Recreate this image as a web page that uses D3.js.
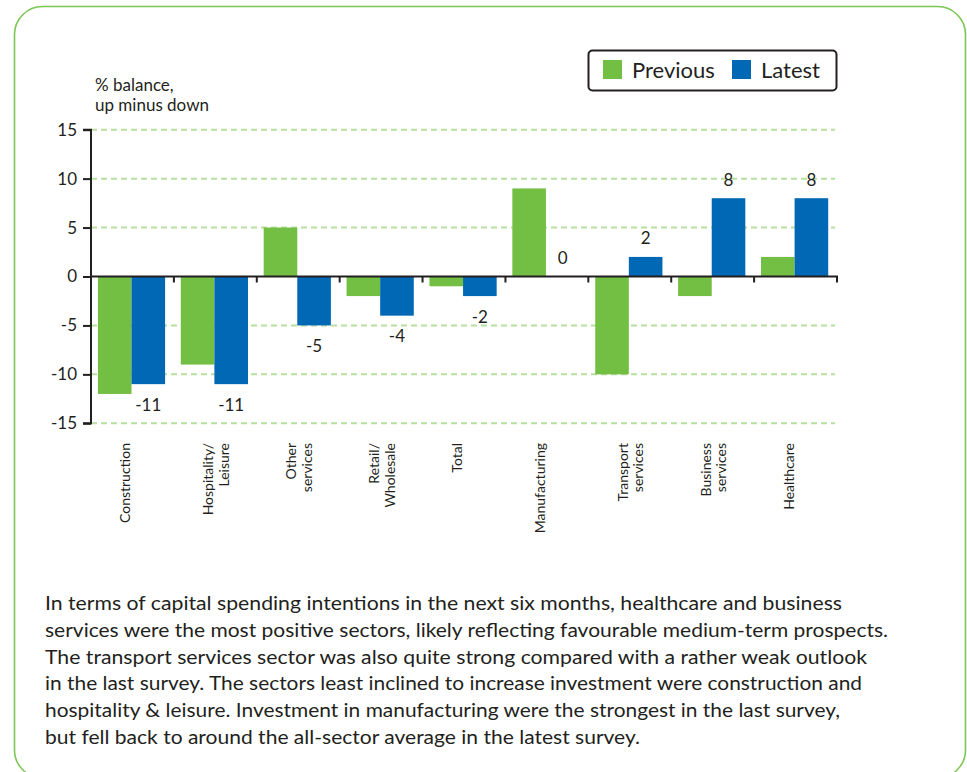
<!DOCTYPE html>
<html>
<head>
<meta charset="utf-8">
<script src="https://cdn.jsdelivr.net/npm/d3@7"></script>
<style>
  html, body { margin: 0; padding: 0; background: #fff; }
  svg { display: block; font-family: "Lato", "Open Sans", sans-serif; }
</style>
</head>
<body>
<svg id="chart" width="967" height="772"></svg>
<script>
const categories = [
  ["Construction"],
  ["Hospitality/", "Leisure"],
  ["Other", "services"],
  ["Retail/", "Wholesale"],
  ["Total"],
  ["Manufacturing"],
  ["Transport", "services"],
  ["Business", "services"],
  ["Healthcare"]
];
const previousValues = [-12, -9, 5, -2, -1, 9, -10, -2, 2];
const latestValues   = [-11, -11, -5, -4, -2, 0, 2, 8, 8];
const seriesNames = ["Previous", "Latest"];
const yTicks = [15, 10, 5, 0, -5, -10, -15];
const yTitle = ["% balance,", "up minus down"];
const paragraph = [
  "In terms of capital spending intentions in the next six months, healthcare and business",
  "services were the most positive sectors, likely reflecting favourable medium-term prospects.",
  "The transport services sector was also quite strong compared with a rather weak outlook",
  "in the last survey. The sectors least inclined to increase investment were construction and",
  "hospitality & leisure. Investment in manufacturing were the strongest in the last survey,",
  "but fell back to around the all-sector average in the latest survey."
];
const paragraphEnds = [842, 888, 867, 862, 840, 640];

const GREEN = "#72bf44", BLUE = "#0068b4", INK = "#231f20", GRID = "#b7dfa0";
const svg = d3.select("#chart");

// Frame
svg.append("rect")
  .attr("x", 14.5).attr("y", 6.5).attr("width", 951).attr("height", 771.5)
  .attr("rx", 28).attr("ry", 28)
  .attr("fill", "none").attr("stroke", "#7cc653").attr("stroke-width", 1.6);

const plotL = 91, plotR = 837, plotT = 129.7, plotB = 423.3;
const names = categories.map(c => c.join(" "));
const x = d3.scaleBand().domain(names).range([plotL, plotR]).paddingInner(0).paddingOuter(0);
const y = d3.scaleLinear().domain([-15, 15]).range([plotB, plotT]);

// Grid
svg.append("g").selectAll("line")
  .data(yTicks.filter(t => t !== 0))
  .join("line")
  .attr("x1", plotL).attr("x2", 835)
  .attr("y1", d => y(d)).attr("y2", d => y(d))
  .attr("stroke", GRID).attr("stroke-width", 2).attr("stroke-dasharray", "6,4");

// Bars
const barW = 33.6, off = 6.9;
const g = svg.append("g");
g.selectAll("rect.prev").data(previousValues).join("rect")
  .attr("class", "prev")
  .attr("x", (d, i) => x(names[i]) + off)
  .attr("width", barW)
  .attr("y", d => y(Math.max(0, d)))
  .attr("height", d => Math.abs(y(d) - y(0)))
  .attr("fill", GREEN);
g.selectAll("rect.latest").data(latestValues).join("rect")
  .attr("class", "latest")
  .attr("x", (d, i) => x(names[i]) + off + barW)
  .attr("width", barW)
  .attr("y", d => y(Math.max(0, d)))
  .attr("height", d => Math.abs(y(d) - y(0)))
  .attr("fill", BLUE);

// Value labels (latest)
svg.append("g").selectAll("text").data(latestValues).join("text")
  .attr("x", (d, i) => x(names[i]) + off + barW * 1.5)
  .attr("y", d => d < 0 ? y(d) + 26.5 : y(d) - 12.5)
  .attr("text-anchor", "middle")
  .attr("font-size", 17).attr("fill", INK)
  .text(d => String(d));

// Y axis
const yAxis = d3.axisLeft(y).tickValues(yTicks).tickSize(8).tickPadding(6).tickFormat(d => String(d));
const ya = svg.append("g").attr("transform", `translate(${plotL},0)`).call(yAxis);
ya.select(".domain").attr("stroke", INK).attr("stroke-width", 2).attr("d", `M-8,${plotT}H0V${plotB}H-8`);
ya.selectAll(".tick line").attr("stroke", INK).attr("stroke-width", 2);
ya.selectAll(".tick text").attr("font-size", 17).attr("fill", INK).attr("font-family", "Lato, sans-serif");

// X axis at zero
const xa = svg.append("g").attr("transform", `translate(0,${y(0)})`);
xa.append("line").attr("x1", plotL).attr("x2", plotR + 1).attr("stroke", INK).attr("stroke-width", 2);
xa.selectAll("line.tk").data(names).join("line")
  .attr("class", "tk")
  .attr("x1", d => x(d) + x.bandwidth()).attr("x2", d => x(d) + x.bandwidth())
  .attr("y1", 0).attr("y2", 6).attr("stroke", INK).attr("stroke-width", 2);

// Category labels
const catG = svg.append("g");
categories.forEach((lines, i) => {
  const cx = x(names[i]) + x.bandwidth() / 2;
  lines.forEach((ln, j) => {
    const tx = cx - 7 + j * 15.5 + 5;
    catG.append("text")
      .attr("transform", `translate(${tx},443) rotate(-90)`)
      .attr("text-anchor", "end")
      .attr("font-size", 14).attr("fill", INK)
      .text(ln);
  });
});

// Y title
svg.append("g").selectAll("text").data(yTitle).join("text")
  .attr("x", 95).attr("y", (d, i) => 91 + i * 20)
  .attr("font-size", 17).attr("fill", INK)
  .text(d => d);

// Legend
const lg = svg.append("g");
lg.append("rect").attr("x", 588.5).attr("y", 50.5).attr("width", 248).attr("height", 40)
  .attr("rx", 4).attr("fill", "#fff").attr("stroke", INK).attr("stroke-width", 2);
const legendColors = [GREEN, BLUE];
const legendX = [603, 732];
seriesNames.forEach((s, i) => {
  lg.append("rect").attr("x", legendX[i]).attr("y", 60).attr("width", 19).attr("height", 19).attr("fill", legendColors[i]);
  lg.append("text").attr("x", legendX[i] + 29).attr("y", 78)
    .attr("font-size", 22).attr("fill", INK).text(s);
});

// Paragraph
svg.append("g").selectAll("text").data(paragraph).join("text")
  .attr("x", 45).attr("y", (d, i) => 610 + i * 26.8)
  .attr("font-size", 19.5).attr("fill", INK)
  .attr("textLength", (d, i) => paragraphEnds[i] - 45)
  .attr("lengthAdjust", "spacingAndGlyphs")
  .text(d => d);
</script>
</body>
</html>
